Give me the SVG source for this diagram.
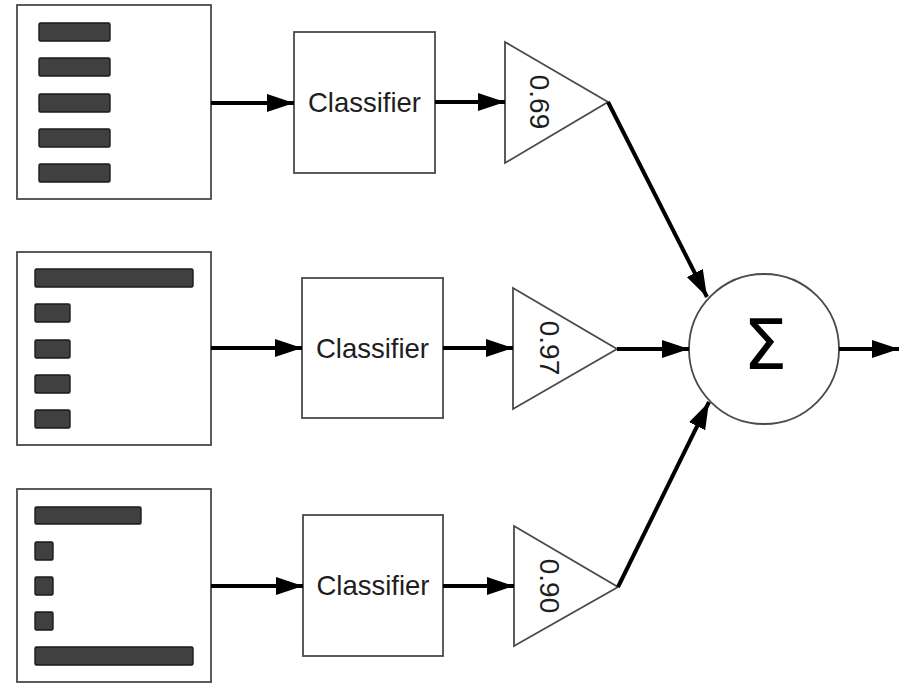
<svg xmlns="http://www.w3.org/2000/svg" width="903" height="693" viewBox="0 0 903 693">
<style>
.box{fill:#fff;stroke:#4a4a4a;stroke-width:1.8}
.bar{fill:#404040;stroke:#1a1a1a;stroke-width:1.4}
.lbl{font-family:"Liberation Sans",Arial,sans-serif;font-size:27.5px;fill:#1e1e1e;text-anchor:middle;dominant-baseline:central}
.w{font-family:"Liberation Sans",Arial,sans-serif;font-size:28px;fill:#1e1e1e;text-anchor:middle;dominant-baseline:central}
.c{fill:none;stroke:#000;stroke-width:4}
</style>
<defs>
<marker id="ah" markerUnits="userSpaceOnUse" markerWidth="30" markerHeight="20" refX="27" refY="9" orient="auto">
<path d="M0,0 L27,9 L0,18 z" fill="#000"/>
</marker>
</defs>
<rect width="903" height="693" fill="#fff"/>
<g id="features1">
<rect class="box" x="17" y="5" width="194" height="194"/>
<rect class="bar" x="39" y="23" width="71" height="18" rx="1.5"/>
<rect class="bar" x="39" y="58" width="71" height="18" rx="1.5"/>
<rect class="bar" x="39" y="94" width="71" height="18" rx="1.5"/>
<rect class="bar" x="39" y="129" width="71" height="18" rx="1.5"/>
<rect class="bar" x="39" y="164" width="71" height="18" rx="1.5"/>
</g>
<g id="features2">
<rect class="box" x="17" y="252" width="194" height="193"/>
<rect class="bar" x="35" y="269" width="158" height="18" rx="1.5"/>
<rect class="bar" x="35" y="304" width="35" height="18" rx="1.5"/>
<rect class="bar" x="35" y="340" width="35" height="18" rx="1.5"/>
<rect class="bar" x="35" y="375" width="35" height="18" rx="1.5"/>
<rect class="bar" x="35" y="410" width="35" height="18" rx="1.5"/>
</g>
<g id="features3">
<rect class="box" x="17" y="489" width="194" height="193"/>
<rect class="bar" x="35" y="507" width="106" height="17" rx="1.5"/>
<rect class="bar" x="35" y="542" width="18" height="18" rx="1.5"/>
<rect class="bar" x="35" y="577" width="18" height="18" rx="1.5"/>
<rect class="bar" x="35" y="612" width="18" height="18" rx="1.5"/>
<rect class="bar" x="35" y="647" width="158" height="18" rx="1.5"/>
</g>
<g id="classifier1">
<rect class="box" x="294" y="32" width="141" height="141"/>
<text class="lbl" x="364.5" y="102">Classifier</text>
</g>
<g id="classifier2">
<rect class="box" x="302" y="278" width="141" height="140"/>
<text class="lbl" x="372.5" y="348">Classifier</text>
</g>
<g id="classifier3">
<rect class="box" x="303" y="515" width="140" height="141"/>
<text class="lbl" x="373" y="585">Classifier</text>
</g>
<g id="weight1">
<polygon class="box" points="505,42 608,102 505,163"/>
<text class="w" transform="translate(539,102) rotate(90)">0.69</text>
</g>
<g id="weight2">
<polygon class="box" points="513,288 617,349 513,409"/>
<text class="w" transform="translate(549,348) rotate(90)">0.97</text>
</g>
<g id="weight3">
<polygon class="box" points="514,526 618,587 514,646"/>
<text class="w" transform="translate(549,586) rotate(90)">0.90</text>
</g>
<g id="sum">
<circle class="box" cx="764" cy="349" r="75"/>
<text x="765" y="369" font-family="'DejaVu Sans',sans-serif" font-size="70" fill="#000" text-anchor="middle">Σ</text>
</g>
<g id="connectors">
<line class="c" x1="211" y1="103" x2="294" y2="103" marker-end="url(#ah)"/>
<line class="c" x1="435" y1="102" x2="505" y2="102" marker-end="url(#ah)"/>
<line class="c" x1="211" y1="348" x2="302" y2="348" marker-end="url(#ah)"/>
<line class="c" x1="443" y1="348" x2="513" y2="348" marker-end="url(#ah)"/>
<line class="c" x1="211" y1="586" x2="303" y2="586" marker-end="url(#ah)"/>
<line class="c" x1="443" y1="586" x2="514" y2="586" marker-end="url(#ah)"/>
<line class="c" x1="608" y1="102" x2="707" y2="297" marker-end="url(#ah)"/>
<line class="c" x1="617" y1="349" x2="689" y2="349" marker-end="url(#ah)"/>
<line class="c" x1="618" y1="587" x2="709" y2="402" marker-end="url(#ah)"/>
<line class="c" x1="839" y1="349" x2="899" y2="349" marker-end="url(#ah)"/>
</g>
</svg>
